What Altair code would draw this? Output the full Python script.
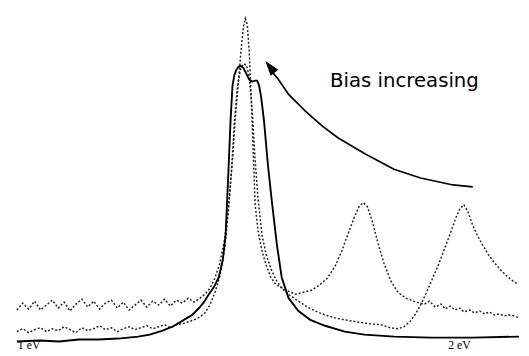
import altair as alt
import pandas as pd

# ---- data (x: energy channel, y: intensity, arbitrary units) ----
# Solid spectrum (lowest bias)
solid_x = [17, 40, 60, 80, 100, 120, 140, 152, 165, 175, 185, 195, 202, 207, 212, 217, 222, 226,
           229, 232, 234, 236, 238, 240, 242, 244, 247, 250, 253, 256, 259, 261, 263, 265, 268,
           272, 276, 281, 286, 293, 303, 315, 330, 350, 370, 400, 438, 480, 527]
solid_y = [1, 2, 1, 3, 3, 4, 6, 8, 12, 16, 22, 28, 35, 41, 49, 56, 66, 83,
           109, 177, 225, 261, 272, 277, 280, 281, 279, 273, 267, 265, 266, 266, 261, 250, 225,
           180, 143, 100, 66, 45, 32, 23, 17, 11, 8, 6, 5, 5, 6]

# Dotted spectrum, medium bias (second peak near 369)
mid_x = [17, 23, 29, 35, 41, 47, 53, 59, 65, 71, 77, 83, 89, 95, 101, 107, 113, 119, 125, 131,
         137, 143, 149, 155, 161, 167, 173, 179, 185, 191, 197, 203, 208, 213, 218, 223, 228,
         232, 236, 239, 242, 245, 247, 249, 251, 253, 255, 257, 259, 262, 266, 270, 275, 280,
         287, 293, 300, 308, 316, 324, 332, 340, 347, 354, 360, 365, 369, 373, 378, 384, 390,
         397, 404, 412, 420, 426, 431, 436, 442, 448, 452, 457, 462, 467, 471, 477, 482, 487,
         492, 497, 502, 507, 512, 517, 522, 527]
mid_y = [33, 40, 34, 42, 33, 38, 43, 35, 41, 32, 39, 44, 36, 42, 34, 40, 43, 35, 41, 33,
         38, 43, 36, 42, 38, 44, 37, 43, 40, 45, 41, 45, 49, 55, 65, 80, 105,
         140, 185, 230, 265, 300, 320, 329, 323, 295, 250, 195, 140, 113, 93, 79, 66, 59,
         55, 52, 49, 51, 53, 58, 65, 77, 93, 112, 128, 139, 142, 138, 123, 100, 80,
         62, 51, 45, 42, 40, 39, 42, 36, 39, 34, 37, 33, 35, 31, 33, 30, 32,
         29, 31, 28, 29, 27, 28, 27, 25]

# Dotted spectrum, highest bias (second peak near 471)
high_x = [17, 23, 29, 35, 41, 47, 53, 59, 65, 71, 77, 83, 89, 95, 101, 107, 113, 119, 125, 131,
          137, 143, 149, 155, 161, 167, 173, 179, 185, 191, 197, 203, 208, 213, 218, 223, 228,
          232, 235, 238, 241, 244, 247, 250, 253, 256, 259, 262, 266, 270, 275, 280, 286, 294,
          303, 312, 320, 330, 340, 350, 362, 375, 387, 396, 404, 410, 416, 422, 428, 434, 440,
          446, 452, 458, 463, 467, 471, 475, 480, 485, 490, 496, 502, 508, 514, 520, 526]
high_y = [11, 14, 10, 13, 15, 11, 14, 12, 16, 13, 10, 15, 12, 14, 17, 13, 15, 11, 14, 16,
          13, 15, 17, 14, 16, 18, 15, 18, 19, 21, 23, 26, 30, 38, 50, 67, 95,
          135, 175, 225, 260, 277, 283, 282, 270, 235, 185, 145, 109, 90, 75, 64, 55, 48,
          42, 36, 32, 28, 25, 23, 21, 19, 18, 15, 14, 16, 21, 29, 40, 53, 67,
          81, 97, 113, 127, 136, 140, 133, 119, 108, 99, 89, 81, 74, 68, 63, 59]

# Arrow ("Bias increasing") drawn in the same data space
arrow_x = [277, 282, 293, 310, 327, 343, 370, 400, 427, 460, 480]
arrow_y = [274, 268, 252, 235, 220, 208, 192, 176, 167, 160, 158]
head_x = [274]
head_y = [280]

annot_text = ["Bias increasing"]
annot_x = [335]
annot_y = [259]

bottom_labels = ["1 eV", "2 eV"]
bottom_x = [18, 455]
bottom_y = [-10, -10]

X_DOMAIN = [8, 529]
Y_DOMAIN = [-11, 337]

xs = alt.Scale(domain=X_DOMAIN, nice=False, zero=False)
ys = alt.Scale(domain=Y_DOMAIN, nice=False, zero=False)


def line_df(xv, yv):
    return pd.DataFrame({"x": xv, "y": yv, "i": range(len(xv))})


def line_layer(df, **mark):
    return alt.Chart(df).mark_line(**mark).encode(
        x=alt.X("x:Q", scale=xs, axis=None),
        y=alt.Y("y:Q", scale=ys, axis=None),
        order="i:Q",
    )


mid = line_layer(line_df(mid_x, mid_y), color="#222222", strokeWidth=1.5,
                 strokeDash=[2, 2])
high = line_layer(line_df(high_x, high_y), color="#222222", strokeWidth=1.5,
                  strokeDash=[2, 2])
solid = line_layer(line_df(solid_x, solid_y), color="#000000", strokeWidth=1.9)

arrow = line_layer(line_df(arrow_x, arrow_y), color="#000000", strokeWidth=1.7)

head = alt.Chart(pd.DataFrame({"x": head_x, "y": head_y})).mark_point(
    shape="M0,-1L0.65,1L-0.65,1Z", filled=True, color="#000000", opacity=1,
    size=230, angle=322,
).encode(x=alt.X("x:Q", scale=xs, axis=None), y=alt.Y("y:Q", scale=ys, axis=None))

annot = alt.Chart(pd.DataFrame({"t": annot_text, "x": annot_x, "y": annot_y})).mark_text(
    font="DejaVu Sans", fontSize=20, align="left", baseline="alphabetic", color="#000000",
).encode(x=alt.X("x:Q", scale=xs, axis=None), y=alt.Y("y:Q", scale=ys, axis=None), text="t:N")

bottom = alt.Chart(pd.DataFrame({"t": bottom_labels, "x": bottom_x, "y": bottom_y})).mark_text(
    font="Liberation Serif", fontSize=12, align="left", baseline="bottom", color="#000000",
).encode(x=alt.X("x:Q", scale=xs, axis=None), y=alt.Y("y:Q", scale=ys, axis=None), text="t:N")

chart = alt.layer(high, mid, solid, arrow, head, annot, bottom).properties(
    width=521, height=348, padding=0,
    autosize=alt.AutoSizeParams(type="none"),
).configure(background="white").configure_view(strokeWidth=0, stroke="transparent")

chart.save("out.html", embed_options={"renderer": "svg", "actions": False})
